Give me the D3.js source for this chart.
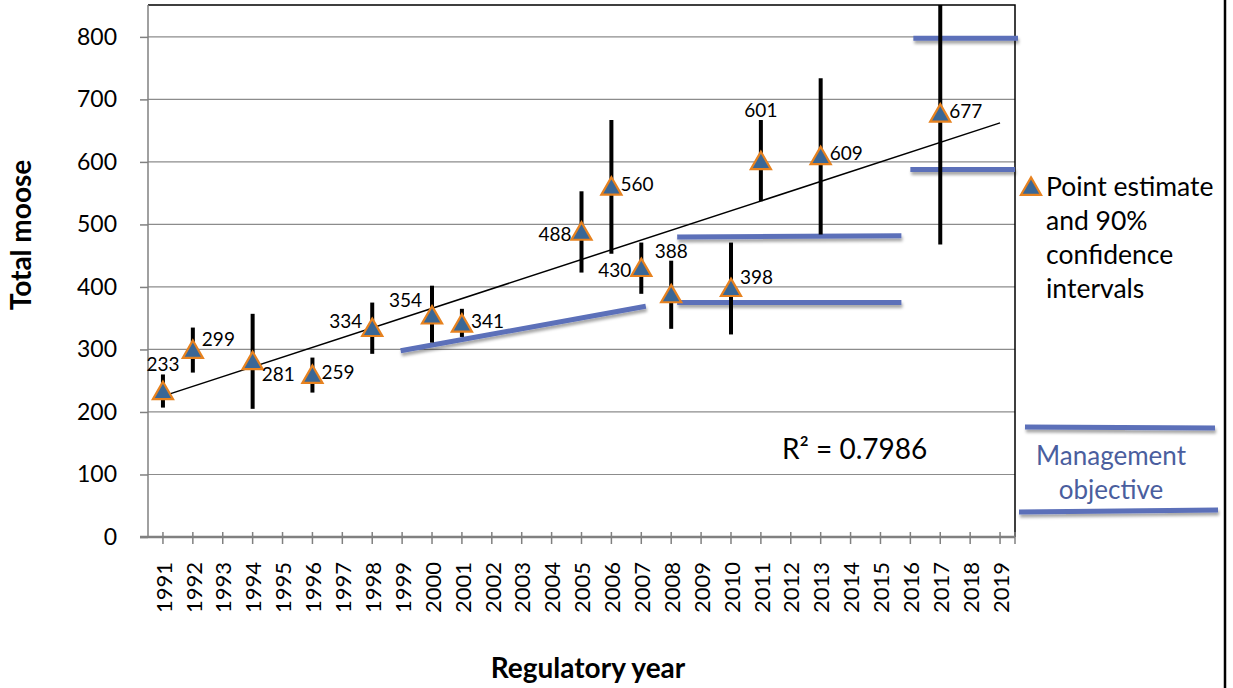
<!DOCTYPE html>
<head>
  <meta charset="utf-8">
  <script src="https://d3js.org/d3.v7.min.js"></script>
  <style>
  body { margin: 0; background: #fff; }
  #chart text { font-family: Lato, "Open Sans", sans-serif; fill: #000; }
  </style>
</head>

<body>
  <svg id="chart"></svg>
  <script>

    // category axis
    var axisYears = d3.range(1991, 2020);
    var yTicks = [0, 100, 200, 300, 400, 500, 600, 700, 800];

    // survey estimates with 90% CI
    var years     = [1991, 1992, 1994, 1996, 1998, 2000, 2001, 2005, 2006, 2007, 2008, 2010, 2011, 2013, 2017];
    var estimates = [233, 299, 281, 259, 334, 354, 341, 488, 560, 430, 388, 398, 601, 609, 677];
    var lower     = [207, 263, 205, 231, 293, 311, 320, 423, 453, 389, 333, 324, 537, 484, 468];
    var upper     = [260, 335, 357, 287, 375, 402, 365, 553, 667, 471, 442, 471, 667, 734, 900];
    var labelSide = ['top', 'right-high', 'right-low', 'right', 'left', 'left-high', 'right', 'left', 'right', 'left', 'top', 'right-high', 'top', 'right', 'right'];

    // management objective segments (year, value)
    var objStartYear = [1998.95, 2008.2, 2008.2, 2016.1, 2016.0];
    var objStartVal  = [298, 480, 375, 798, 588];
    var objEndYear   = [2007.15, 2015.7, 2015.7, 2019.6, 2019.5];
    var objEndVal    = [369, 482, 375, 798, 588];

    var rSquared = "R\u00B2 = 0.7986";

    var width = 1233, height = 688;
    var pLeft = 148, pRight = 1015, pTop = 5, pBottom = 537;
    var blue = '#5b6fb9';

    var svg = d3.select('#chart')
        .attr('width', width)
        .attr('height', height);

    var defs = svg.append('defs');
    var f = defs.append('filter').attr('id', 'shadow')
        .attr('filterUnits', 'userSpaceOnUse')
        .attr('x', 0).attr('y', 0).attr('width', width).attr('height', height);
    f.append('feDropShadow').attr('dx', 1).attr('dy', 3).attr('stdDeviation', 1.8)
        .attr('flood-color', '#000').attr('flood-opacity', 0.35);
    defs.append('clipPath').attr('id', 'plotclip')
      .append('rect').attr('x', pLeft).attr('y', pTop).attr('width', pRight - pLeft).attr('height', pBottom - pTop);

    var x = d3.scaleBand().domain(axisYears).range([pLeft, pRight]);
    var xl = d3.scaleLinear().domain([1990.5, 2019.5]).range([pLeft, pRight]);
    var y = d3.scaleLinear().domain([0, 851]).range([pBottom, pTop]);

    // gridlines
    svg.append('g').selectAll('line')
        .data(yTicks.slice(1))
      .enter().append('line')
        .attr('x1', pLeft).attr('x2', pRight)
        .attr('y1', d => y(d)).attr('y2', d => y(d))
        .attr('stroke', '#8c8c8c').attr('stroke-width', 1.2);

    // plot border top/right
    svg.append('path')
        .attr('d', 'M' + pLeft + ',' + y(851) + 'H' + pRight + 'V' + pBottom)
        .attr('fill', 'none').attr('stroke', '#000').attr('stroke-width', 1.5);

    // y axis
    var yAxis = svg.append('g')
        .attr('transform', 'translate(' + pLeft + ',0)')
        .call(d3.axisLeft(y).tickValues(yTicks).tickSize(8).tickPadding(23));
    yAxis.select('.domain').attr('stroke', '#808080').attr('stroke-width', 1.5)
        .attr('d', 'M0,' + y(851) + 'V' + pBottom);
    yAxis.selectAll('.tick line').attr('stroke', '#808080').attr('stroke-width', 1.5);
    yAxis.selectAll('.tick text').style('font-size', '23px').attr('fill', '#000');

    // x axis
    var xAxis = svg.append('g')
        .attr('transform', 'translate(0,' + pBottom + ')')
        .call(d3.axisBottom(x).tickSize(0).tickPadding(0));
    xAxis.select('.domain').attr('stroke', '#808080').attr('stroke-width', 2.5)
        .attr('d', 'M' + (pLeft - 8) + ',0H' + pRight);
    xAxis.selectAll('.tick').append('line')
        .attr('y1', -5).attr('y2', 7)
        .attr('stroke', '#808080').attr('stroke-width', 1.5);
    xAxis.append('line')
        .attr('x1', pRight).attr('x2', pRight).attr('y1', -5).attr('y2', 7)
        .attr('stroke', '#808080').attr('stroke-width', 1.5);
    xAxis.selectAll('.tick text')
        .style('font-size', '22px').attr('fill', '#000')
        .attr('text-anchor', 'end')
        .attr('transform', 'translate(1,25) rotate(-90)')
        .attr('x', 0).attr('y', 0).attr('dy', '0.35em');

    // axis titles
    svg.append('text')
        .attr('transform', 'translate(31,235) rotate(-90)')
        .attr('text-anchor', 'middle')
        .style('font-size', '28px').style('font-weight', 'bold')
        .text('Total moose');
    svg.append('text')
        .attr('x', 588).attr('y', 678)
        .attr('text-anchor', 'middle')
        .style('font-size', '28px').style('font-weight', 'bold')
        .text('Regulatory year');

    // management objective lines
    svg.append('g').attr('filter', 'url(#shadow)').selectAll('line')
        .data(objStartYear)
      .enter().append('line')
        .attr('x1', d => xl(d))
        .attr('y1', (d, i) => y(objStartVal[i]))
        .attr('x2', (d, i) => xl(objEndYear[i]))
        .attr('y2', (d, i) => y(objEndVal[i]))
        .attr('stroke', blue).attr('stroke-width', 5);

    // trendline (least squares on category index)
    var idx = years.map(d => axisYears.indexOf(d));
    var mx = d3.mean(idx), my = d3.mean(estimates);
    var sxy = d3.sum(idx, (d, i) => (d - mx) * (estimates[i] - my));
    var sxx = d3.sum(idx, d => (d - mx) * (d - mx));
    var slope = sxy / sxx, icpt = my - slope * mx;
    svg.append('line')
        .attr('x1', xl(1991)).attr('y1', y(icpt))
        .attr('x2', xl(2019)).attr('y2', y(icpt + slope * 28))
        .attr('stroke', '#000').attr('stroke-width', 1.5);

    // error bars
    svg.append('g').attr('clip-path', 'url(#plotclip)').selectAll('line')
        .data(years)
      .enter().append('line')
        .attr('x1', d => xl(d)).attr('x2', d => xl(d))
        .attr('y1', (d, i) => y(lower[i]))
        .attr('y2', (d, i) => y(upper[i]))
        .attr('stroke', '#000').attr('stroke-width', 4);

    // triangles
    var tri = d3.symbol().type(d3.symbolTriangle).size(175);
    svg.append('g').selectAll('path')
        .data(years)
      .enter().append('path')
        .attr('d', tri)
        .attr('transform', (d, i) => 'translate(' + xl(d) + ',' + (y(estimates[i]) + 2) + ')')
        .attr('fill', '#3a6796').attr('stroke', '#e7821f').attr('stroke-width', 2.2);

    // data labels
    svg.append('g').selectAll('text')
        .data(years)
      .enter().append('text')
        .style('font-size', '19px')
        .each(function(d, i) {
          var cx = xl(d), cy = y(estimates[i]), s = labelSide[i], t = d3.select(this);
          if (s === 'top') {
            t.attr('x', cx).attr('y', y(upper[i]) - 3).attr('text-anchor', 'middle');
          } else if (s.indexOf('right') === 0) {
            var off = s === 'right-high' ? -4 : s === 'right-low' ? 20 : 4;
            t.attr('x', cx + 9).attr('y', cy + off).attr('text-anchor', 'start');
          } else {
            var off2 = s === 'left-high' ? -9 : (estimates[i] === 334 ? 0 : 9);
            t.attr('x', cx - 10).attr('y', cy + off2).attr('text-anchor', 'end');
          }
        })
        .text((d, i) => estimates[i]);

    // R squared
    svg.append('text')
        .attr('x', 782).attr('y', 459)
        .style('font-size', '28px')
        .text(rSquared);

    // legend
    svg.append('path')
        .attr('d', tri)
        .attr('transform', 'translate(1031,189)')
        .attr('fill', '#3a6796').attr('stroke', '#e7821f').attr('stroke-width', 2.2);
    svg.append('text')
        .attr('x', 1046).attr('y', 196)
        .style('font-size', '26.5px')
        .selectAll('tspan')
        .data(['Point estimate', 'and 90%', 'confidence', 'intervals'])
      .enter().append('tspan')
        .attr('x', 1046)
        .attr('dy', (d, i) => i ? 34 : 0)
        .text(d => d);

    var lg = svg.append('g').attr('filter', 'url(#shadow)');
    lg.append('line').attr('x1', 1025).attr('x2', 1215).attr('y1', 427).attr('y2', 428)
        .attr('stroke', blue).attr('stroke-width', 5);
    lg.append('line').attr('x1', 1019).attr('x2', 1218).attr('y1', 512).attr('y2', 510)
        .attr('stroke', blue).attr('stroke-width', 5);
    svg.append('text')
        .attr('x', 1111).attr('y', 465)
        .attr('text-anchor', 'middle')
        .style('font-size', '26px').style('fill', '#4a5e9e')
        .selectAll('tspan')
        .data(['Management', 'objective'])
      .enter().append('tspan')
        .attr('x', 1111)
        .attr('dy', (d, i) => i ? 34 : 0)
        .text(d => d);

    // outer frame edge
    svg.append('line')
        .attr('x1', 1225).attr('x2', 1225).attr('y1', 0).attr('y2', height)
        .attr('stroke', '#000').attr('stroke-width', 2.5);

  </script>
</body>
